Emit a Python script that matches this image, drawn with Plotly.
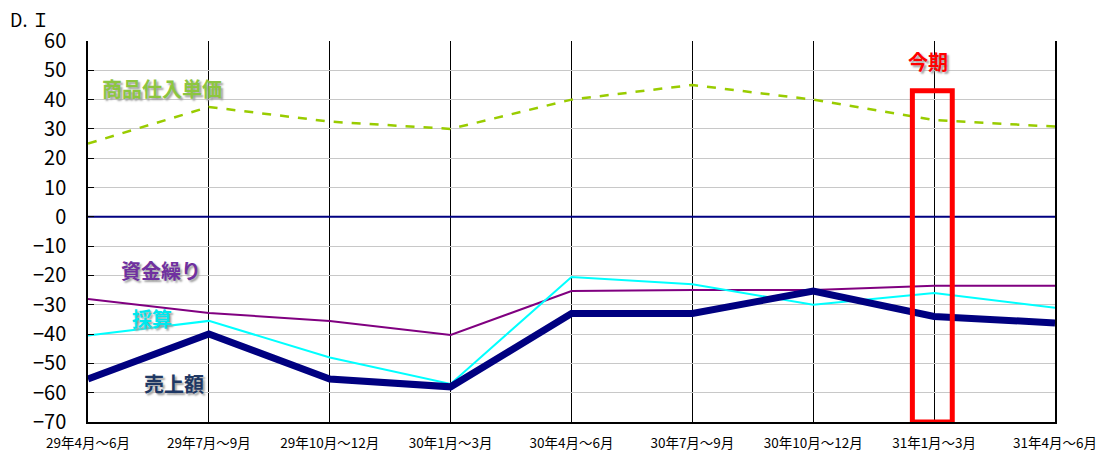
import plotly.graph_objects as go

categories = ["29年4月～6月", "29年7月～9月", "29年10月～12月", "30年1月～3月",
              "30年4月～6月", "30年7月～9月", "30年10月～12月", "31年1月～3月", "31年4月～6月"]
unit_price = [25, 37.5, 32.5, 30, 40, 45, 40, 33, 30.8]
cash_flow = [-28, -32.8, -35.5, -40.3, -25.3, -25, -25, -23.5, -23.5]
profit = [-40.5, -35.5, -48, -57, -20.5, -23, -30, -26, -31]
sales = [-55.3, -40, -55.3, -58, -33, -33, -25.3, -34, -36.2]
y_ticks = list(range(-70, 61, 10))

FONT = "Noto Sans CJK JP"
x = list(range(len(categories)))

# page has an 8px default body margin; figure sized to compensate
W, H = 1097, 445
L, T, R, B = 80, 33, 50, 31

fig = go.Figure()
fig.add_trace(go.Scatter(x=x, y=[0] * len(x), mode="lines",
                         line=dict(color="#000080", width=2), showlegend=False, hoverinfo="skip"))
fig.add_trace(go.Scatter(x=x, y=unit_price, mode="lines", name="商品仕入単価",
                         line=dict(color="#99CC00", width=2.5, dash="dash")))
fig.add_trace(go.Scatter(x=x, y=cash_flow, mode="lines", name="資金繰り",
                         line=dict(color="#800080", width=2)))
fig.add_trace(go.Scatter(x=x, y=profit, mode="lines", name="採算",
                         line=dict(color="#00FFFF", width=2)))
fig.add_trace(go.Scatter(x=x, y=sales, mode="lines", name="売上額",
                         line=dict(color="#000080", width=7)))

# current period box
fig.add_shape(type="rect", xref="x", yref="y", x0=6.82, x1=7.15, y0=-70, y1=43,
              line=dict(color="#FF0000", width=5), fillcolor="rgba(0,0,0,0)")

shadow = "2px 2px 2px #a0a0a0"
ann = [
    ("商品仕入単価", 0.61, 43.7, "#8CC63F"),
    ("資金繰り", 0.60, -18.4, "#7030A0"),
    ("採算", 0.53, -34.8, "#00E8EE"),
    ("売上額", 0.71, -56.7, "#1F3864"),
]
for txt, ax, ay, col in ann:
    fig.add_annotation(x=ax, y=ay, xref="x", yref="y", text=txt, showarrow=False,
                       font=dict(family=FONT, size=20, color=col, weight="bold", shadow=shadow))
fig.add_annotation(x=6.95, y=53, xref="x", yref="y", text="今期", showarrow=False,
                   font=dict(family=FONT, size=20, color="#FF0000", weight="bold", shadow=shadow))
fig.add_annotation(x=(1 - L) / (W - L - R), y=(H - B - 11) / (H - T - B),
                   xref="paper", yref="paper", xanchor="left", yanchor="middle", borderpad=0,
                   text="D.&nbsp;Ｉ", showarrow=False, font=dict(family=FONT, size=18, color="#000000"))

fig.update_layout(
    width=W, height=H,
    margin=dict(l=L, r=R, t=T, b=B, autoexpand=False),
    paper_bgcolor="white", plot_bgcolor="white",
    showlegend=False,
    font=dict(family=FONT, color="#000000"),
)

fig.update_xaxes(range=[0, 8], tickvals=x, ticktext=categories, automargin=False,
                 tickfont=dict(size=13.5, family=FONT), showgrid=True, gridcolor="#000000", gridwidth=1,
                 showline=True, linecolor="#000000", linewidth=1.5, mirror=False,
                 ticks="", zeroline=False, ticklabelstandoff=8)
fig.update_yaxes(range=[-70, 60], tickvals=y_ticks, tickfont=dict(size=20, family=FONT),
                 showgrid=True, gridcolor="#c8c8c8", gridwidth=1, automargin=False,
                 showline=True, linecolor="#000000", linewidth=1.5, mirror=True,
                 ticks="inside", ticklen=6, tickcolor="#000000", zeroline=False,
                 ticklabelstandoff=16)

fig.write_html("out.html")
